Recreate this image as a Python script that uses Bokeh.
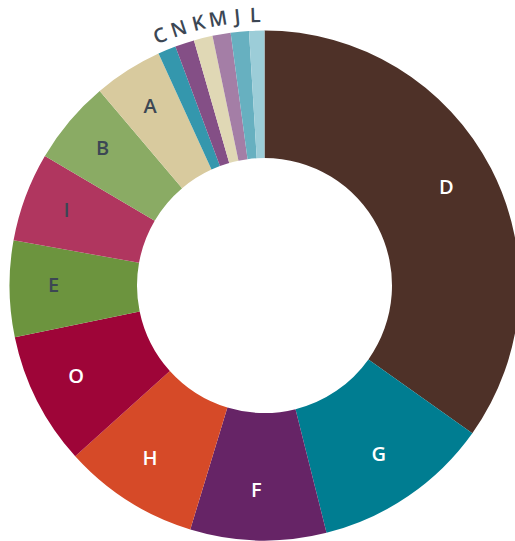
import math
from bokeh.plotting import figure
from bokeh.models import ColumnDataSource
from bokeh.core.properties import value
from bokeh.embed import file_html
from bokeh.resources import INLINE

categories = ["D", "G", "F", "H", "O", "E", "I", "B", "A", "C", "N", "K", "M", "J", "L"]
values = [34.83, 11.25, 8.61, 8.61, 8.43, 6.10, 5.64, 5.33, 4.36, 1.14, 1.22, 1.19, 1.15, 1.15, 0.97]
colors = ["#4e3128", "#007d91", "#662466", "#d64a28", "#9e0538", "#6c943e", "#b0365f",
          "#8aab64", "#d8ca9e", "#3497ad", "#844f86", "#e0d8b5", "#a47ea6", "#67b0c0", "#9ccdd8"]
label_colors = ["#ffffff", "#ffffff", "#ffffff", "#ffffff", "#ffffff", "#3c4754", "#3c4754",
                "#3c4754", "#3c4754", "#3c4754", "#3c4754", "#3c4754", "#3c4754", "#3c4754", "#3c4754"]

R_OUT = 255
R_IN = 127.5
R_LABEL_IN = 208
R_LABEL_OUT = 271

total = sum(values)
starts, ends = [], []
cum = 0.0
for v in values:
    a0 = cum / total * 2 * math.pi
    cum += v
    a1 = cum / total * 2 * math.pi
    starts.append(math.pi / 2 - a0)
    ends.append(math.pi / 2 - a1)

src = ColumnDataSource(dict(start=starts, end=ends, color=colors, cat=categories))

lx, ly, lang, xo, yo = [], [], [], [], []
for v, s, e in zip(values, starts, ends):
    mid = (s + e) / 2
    frac = v / total
    if frac < 0.02:
        r = R_LABEL_OUT
        ang = mid - math.pi / 2
        xo.append(-1)
        yo.append(0)
    else:
        r = R_LABEL_IN
        ang = 0.0
        xo.append(-3)
        yo.append(-4)
    lx.append(r * math.cos(mid))
    ly.append(r * math.sin(mid))
    lang.append(ang)

lsrc = ColumnDataSource(dict(x=lx, y=ly, angle=lang, text=categories, color=label_colors,
                             xo=xo, yo=yo))

W, H = 515, 541
cx, cy = 264, 285
p = figure(width=W, height=H, x_range=(-cx, W - cx), y_range=(-(H - cy), cy),
           output_backend="svg", toolbar_location=None, min_border=0)
p.axis.visible = False
p.grid.visible = False
p.outline_line_color = None
p.background_fill_color = "white"
p.border_fill_color = "white"

p.annular_wedge(x=0, y=0, inner_radius=R_IN, outer_radius=R_OUT,
                start_angle="start", end_angle="end", direction="clock",
                fill_color="color", line_color=None, source=src)

p.text(x="x", y="y", text="text", angle="angle", text_color="color",
       x_offset="xo", y_offset="yo",
       text_align="center", text_baseline="middle",
       text_font=value("Open Sans SemiBold, Open Sans"), text_font_size="20px",
       source=lsrc)

open("out.html", "w").write(file_html(p, INLINE))
